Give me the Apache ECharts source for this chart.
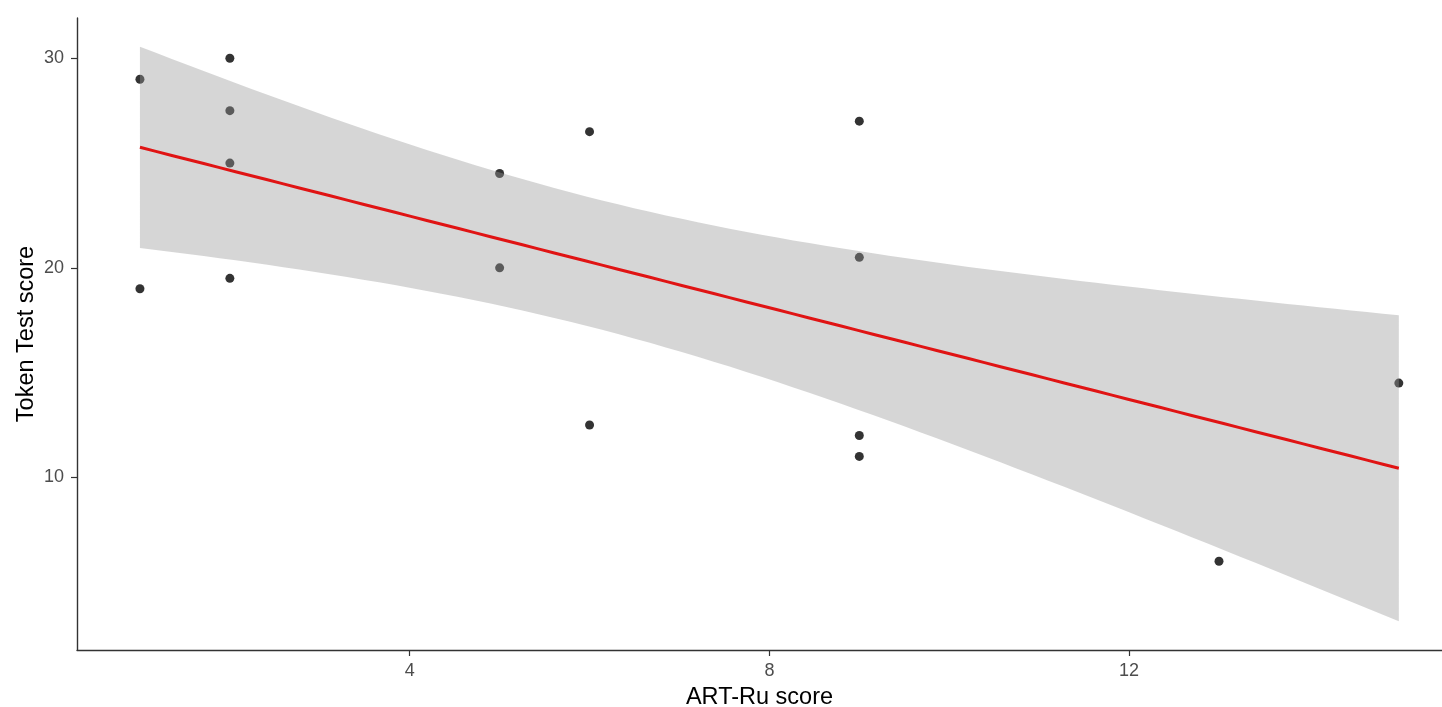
<!DOCTYPE html>
<html>
<head>
<meta charset="utf-8">
<title>Token Test vs ART-Ru</title>
<script src="https://cdn.jsdelivr.net/npm/echarts@6/dist/echarts.min.js"></script>
<style>
  html, body { margin: 0; padding: 0; background: #ffffff; }
  #chart { width: 1442px; height: 707px; }
</style>
</head>
<body>
<div id="chart"></div>
<script>
// Observed scores, one entry per participant
const artRu     = [1, 1, 2, 2, 2, 2, 5, 5, 6, 6, 9, 9, 9, 9, 13, 15];
const tokenTest = [29, 19, 30, 27.5, 25, 19.5, 24.5, 20, 26.5, 12.5, 27, 20.5, 12, 11, 6, 14.5];

// Tick positions shown on each axis
const xTicks = [4, 8, 12];
const yTicks = [10, 20, 30];

// Two-sided 95% t critical value for n - 2 = 14 degrees of freedom
const T_CRIT = 2.144787;

// Ordinary least squares fit with 95% confidence band (as in geom_smooth(method = "lm"))
function linearFit(xs, ys, steps) {
  const n = xs.length;
  const mx = xs.reduce((a, b) => a + b, 0) / n;
  const my = ys.reduce((a, b) => a + b, 0) / n;
  let sxx = 0, sxy = 0;
  for (let i = 0; i < n; i++) {
    sxx += (xs[i] - mx) * (xs[i] - mx);
    sxy += (xs[i] - mx) * (ys[i] - my);
  }
  const slope = sxy / sxx;
  const icept = my - slope * mx;
  let sse = 0;
  for (let i = 0; i < n; i++) {
    const r = ys[i] - (icept + slope * xs[i]);
    sse += r * r;
  }
  const s = Math.sqrt(sse / (n - 2));
  const x0 = Math.min(...xs), x1 = Math.max(...xs);
  const fit = [], lower = [], upper = [];
  for (let k = 0; k < steps; k++) {
    const x = x0 + (x1 - x0) * k / (steps - 1);
    const yhat = icept + slope * x;
    const se = s * Math.sqrt(1 / n + (x - mx) * (x - mx) / sxx);
    fit.push([x, yhat]);
    lower.push([x, yhat - T_CRIT * se]);
    upper.push([x, yhat + T_CRIT * se]);
  }
  return { fit, lower, upper };
}

const smooth = linearFit(artRu, tokenTest, 80);

// Panel limits with 5% padding around everything drawn
const allY = tokenTest
  .concat(smooth.lower.map(p => p[1]))
  .concat(smooth.upper.map(p => p[1]));
const yLo = Math.min(...allY), yHi = Math.max(...allY);
const xLo = Math.min(...artRu), xHi = Math.max(...artRu);
const yPad = (yHi - yLo) * 0.05, xPad = (xHi - xLo) * 0.05;

// The panel runs slightly past the right edge of the page
const X_MIN = xLo - xPad;
const X_MAX_VISIBLE = 15.48;

const FONT = "'Liberation Sans', Arial, Helvetica, sans-serif";

const chart = echarts.init(document.getElementById('chart'), null, { renderer: 'canvas' });

// Confidence band as one closed polygon: upper edge left to right, lower edge back
const bandPolygon = smooth.upper.concat(smooth.lower.slice().reverse());

chart.setOption({
  backgroundColor: '#ffffff',
  animation: false,
  grid: { left: 77, right: 0, top: 18, bottom: 57, containLabel: false, outerBoundsMode: 'none' },
  xAxis: {
    type: 'value',
    min: X_MIN,
    max: X_MAX_VISIBLE,
    name: 'ART-Ru score',
    nameLocation: 'middle',
    nameGap: 36,
    nameMoveOverlap: false,
    nameTextStyle: { color: '#000000', fontSize: 23.5, fontFamily: FONT },
    axisLine: { show: true, lineStyle: { color: '#333333', width: 1.4 } },
    axisTick: { show: true, length: 6, customValues: xTicks, lineStyle: { color: '#333333', width: 1.2 } },
    axisLabel: { customValues: xTicks, color: '#4d4d4d', fontSize: 18, fontFamily: FONT, margin: 12 },
    splitLine: { show: false }
  },
  yAxis: {
    type: 'value',
    min: yLo - yPad,
    max: yHi + yPad,
    name: 'Token Test score',
    nameLocation: 'middle',
    nameGap: 38,
    nameMoveOverlap: false,
    nameTextStyle: { color: '#000000', fontSize: 23.5, fontFamily: FONT },
    axisLine: { show: true, lineStyle: { color: '#333333', width: 1.4 } },
    axisTick: { show: true, length: 6, customValues: yTicks, lineStyle: { color: '#333333', width: 1.2 } },
    axisLabel: { customValues: yTicks, color: '#4d4d4d', fontSize: 18, fontFamily: FONT, margin: 13 },
    splitLine: { show: false }
  },
  series: [
    {
      name: 'participants',
      type: 'scatter',
      z: 1,
      symbol: 'circle',
      symbolSize: 9,
      itemStyle: { color: '#000000' },
      data: artRu.map((x, i) => [x, tokenTest[i]])
    },
    {
      name: 'band',
      type: 'custom',
      z: 2,
      silent: true,
      data: [0],
      renderItem: function (params, api) {
        const pts = bandPolygon.map(p => api.coord(p));
        return {
          type: 'polygon',
          shape: { points: pts },
          style: { fill: 'rgba(153,153,153,0.4)', stroke: null }
        };
      }
    },
    {
      name: 'fit',
      type: 'line',
      z: 3,
      symbol: 'none',
      lineStyle: { color: '#e01414', width: 3 },
      data: smooth.fit
    }
  ]
});
</script>
</body>
</html>
